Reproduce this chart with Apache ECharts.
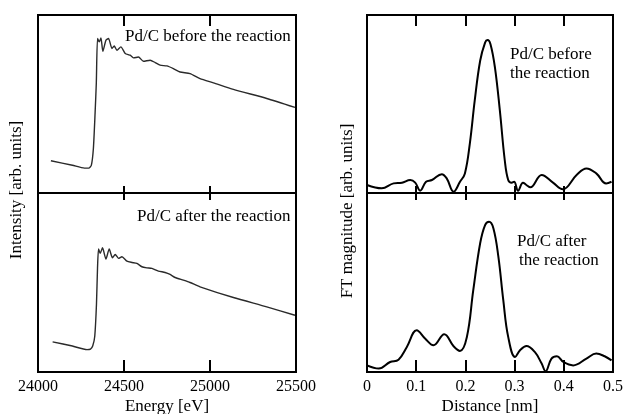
<!DOCTYPE html>
<html>
<head>
<meta charset="utf-8">
<script src="https://cdn.jsdelivr.net/npm/echarts@6/dist/echarts.min.js"></script>
<style>
html,body{margin:0;padding:0;background:#fff;}
#chart{width:624px;height:414px;}
</style>
</head>
<body>
<div id="chart"></div>
<script>
// ---- XANES (left) ----
const energyTicks = [24000, 24500, 25000, 25500];
const energyBefore = [24075, 24200, 24270, 24295, 24310, 24322, 24332, 24339, 24346, 24356, 24366, 24377, 24395, 24410, 24430, 24443, 24459, 24482, 24507, 24536, 24555, 24584, 24613, 24652, 24681, 24710, 24749, 24787, 24826, 24884, 24942, 25020, 25136, 25330, 25494];
const intensityBefore = [0.181, 0.156, 0.140, 0.140, 0.155, 0.25, 0.45, 0.617, 0.868, 0.849, 0.871, 0.796, 0.858, 0.868, 0.812, 0.826, 0.802, 0.821, 0.784, 0.774, 0.759, 0.764, 0.740, 0.746, 0.733, 0.718, 0.714, 0.699, 0.680, 0.671, 0.643, 0.619, 0.582, 0.531, 0.481];
const energyAfter = [24085, 24200, 24285, 24305, 24318, 24330, 24340, 24346, 24352, 24362, 24375, 24395, 24414, 24433, 24449, 24468, 24488, 24517, 24546, 24575, 24604, 24633, 24662, 24700, 24739, 24768, 24797, 24845, 24884, 24942, 25136, 25330, 25494];
const intensityAfter = [0.168, 0.145, 0.125, 0.128, 0.145, 0.20, 0.38, 0.58, 0.687, 0.663, 0.694, 0.631, 0.687, 0.638, 0.657, 0.635, 0.644, 0.619, 0.612, 0.607, 0.588, 0.582, 0.579, 0.564, 0.556, 0.545, 0.528, 0.513, 0.500, 0.476, 0.416, 0.364, 0.317];

// ---- FT (right) ----
const distanceTicks = [0, 0.1, 0.2, 0.3, 0.4, 0.5];
const distBefore = [0, 0.030, 0.054, 0.071, 0.088, 0.098, 0.108, 0.120, 0.132, 0.152, 0.162, 0.176, 0.189, 0.199, 0.209, 0.219, 0.230, 0.240, 0.245, 0.251, 0.260, 0.270, 0.280, 0.287, 0.294, 0.299, 0.307, 0.317, 0.324, 0.332, 0.355, 0.378, 0.398, 0.426, 0.446, 0.466, 0.486, 0.497];
const ftBefore = [0.045, 0.026, 0.054, 0.058, 0.073, 0.058, 0.013, 0.063, 0.073, 0.106, 0.082, 0.007, 0.063, 0.110, 0.278, 0.520, 0.743, 0.845, 0.859, 0.836, 0.706, 0.464, 0.184, 0.073, 0.058, 0.063, 0.013, 0.058, 0.045, 0.032, 0.101, 0.058, 0.021, 0.101, 0.138, 0.110, 0.054, 0.063];
const distAfter = [0, 0.024, 0.047, 0.064, 0.081, 0.101, 0.118, 0.135, 0.157, 0.176, 0.189, 0.203, 0.216, 0.230, 0.240, 0.248, 0.257, 0.267, 0.277, 0.287, 0.301, 0.311, 0.324, 0.341, 0.355, 0.363, 0.375, 0.386, 0.399, 0.419, 0.446, 0.466, 0.483, 0.497];
const ftAfter = [0.037, 0.019, 0.056, 0.069, 0.140, 0.233, 0.187, 0.149, 0.211, 0.144, 0.118, 0.196, 0.457, 0.719, 0.821, 0.839, 0.802, 0.644, 0.401, 0.196, 0.084, 0.121, 0.145, 0.112, 0.047, 0.004, 0.075, 0.088, 0.056, 0.037, 0.075, 0.103, 0.088, 0.065];

const labelTexts = {
  leftBefore: 'Pd/C before the reaction',
  leftAfter: 'Pd/C after the reaction',
  rightBefore: ['Pd/C before', 'the reaction'],
  rightAfter: ['Pd/C after', 'the reaction'],
  xLeft: 'Energy [eV]',
  xRight: 'Distance [nm]',
  yLeft: 'Intensity [arb. units]',
  yRight: 'FT magnitude [arb. units]'
};

const FONT = 'Liberation Serif';
const pairs = (xs, ys) => xs.map((x, i) => [x, ys[i]]);

const grids = [
  {left: 38, top: 15, width: 258, height: 178},
  {left: 38, top: 193, width: 258, height: 179},
  {left: 367, top: 15, width: 246, height: 178},
  {left: 367, top: 193, width: 246, height: 179}
].map(g => Object.assign({show: true, borderColor: '#000', borderWidth: 2, backgroundColor: 'transparent',
  containLabel: false, outerBoundsMode: 'none'}, g));

function xAx(gi, pos, isLeft, tickLen, showLabels, name) {
  const a = {
    type: 'value', gridIndex: gi, position: pos,
    min: isLeft ? energyTicks[0] : distanceTicks[0],
    max: isLeft ? energyTicks[energyTicks.length - 1] : distanceTicks[distanceTicks.length - 1],
    interval: isLeft ? 500 : 0.1,
    axisLine: {show: false},
    axisTick: {show: true, inside: true, length: tickLen, lineStyle: {color: '#000', width: 2}},
    splitLine: {show: false},
    axisLabel: {show: showLabels, color: '#000', fontFamily: FONT, fontSize: 16, margin: 7,
      formatter: v => isLeft ? String(v) : (Math.round(v * 10) / 10).toString()},
  };
  if (name) {
    a.name = name; a.nameLocation = 'middle'; a.nameGap = 26;
    a.nameTextStyle = {color: '#000', fontFamily: FONT, fontSize: 17};
  }
  return a;
}

const xAxis = [
  xAx(0, 'bottom', true, 7, false), xAx(0, 'top', true, 11, false),
  xAx(1, 'bottom', true, 12, true, labelTexts.xLeft), xAx(1, 'top', true, 7, false),
  xAx(2, 'bottom', false, 7, false), xAx(2, 'top', false, 11, false),
  xAx(3, 'bottom', false, 12, true, labelTexts.xRight), xAx(3, 'top', false, 7, false)
];
const yAxis = [0, 1, 2, 3].map(gi => ({type: 'value', gridIndex: gi, min: 0, max: 1, show: false}));

function line(xi, yi, data, smooth, width, color) {
  return {type: 'line', xAxisIndex: xi, yAxisIndex: yi, data, showSymbol: false, smooth,
    lineStyle: {color, width}, silent: true, animation: false, clip: true};
}

const series = [
  line(0, 0, pairs(energyBefore, intensityBefore), 0.2, 1.4, '#2a2a2a'),
  line(2, 1, pairs(energyAfter, intensityAfter), 0.2, 1.4, '#2a2a2a'),
  line(4, 2, pairs(distBefore, ftBefore), 0.4, 2, '#000'),
  line(6, 3, pairs(distAfter, ftAfter), 0.4, 2, '#000')
];

function txt(x, y, text, opts) {
  return Object.assign({type: 'text', x, y, silent: true,
    style: Object.assign({text, font: '17px "' + FONT + '"', fill: '#000',
      align: 'left', verticalAlign: 'middle', textAlign: 'left', textVerticalAlign: 'middle'}, (opts && opts.style) || {})},
    opts && opts.rotation !== undefined ? {rotation: opts.rotation} : {});
}

const graphic = [
  txt(125, 37, labelTexts.leftBefore),
  txt(137, 217, labelTexts.leftAfter),
  txt(510, 55, labelTexts.rightBefore[0]),
  txt(510, 74, labelTexts.rightBefore[1]),
  txt(517, 242, labelTexts.rightAfter[0]),
  txt(519, 261, labelTexts.rightAfter[1]),
  txt(17, 190, labelTexts.yLeft, {rotation: Math.PI / 2, style: {align: 'center', textAlign: 'center'}}),
  txt(348, 211, labelTexts.yRight, {rotation: Math.PI / 2, style: {align: 'center', textAlign: 'center'}})
];

const chart = echarts.init(document.getElementById('chart'), null, {renderer: 'canvas'});
chart.setOption({
  backgroundColor: '#fff',
  animation: false,
  grid: grids,
  xAxis, yAxis, series, graphic
});
</script>
</body>
</html>
